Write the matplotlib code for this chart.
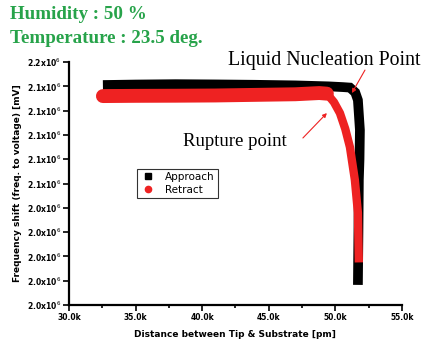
import matplotlib
matplotlib.use('Agg')
import matplotlib.pyplot as plt

# approach curve (black)
approach_x = [32550, 35000, 38000, 41000, 44000, 47000, 49500, 50570, 51100, 51500, 51700, 51850, 51820, 51770, 51740, 51700]
approach_y = [2.1411e6, 2.1415e6, 2.1418e6, 2.1416e6, 2.1413e6, 2.1408e6, 2.1400e6, 2.1394e6, 2.1390e6, 2.1350e6, 2.1287e6, 2.1040e6, 2.0800e6, 2.0630e6, 2.0200e6, 1.9765e6]

# retract curve (red)
retract_x = [32550, 35000, 38000, 41000, 44000, 47000, 48800, 49370, 49900, 50350, 50750, 51100, 51470, 51700, 51770]
retract_y = [2.1320e6, 2.1322e6, 2.1323e6, 2.1325e6, 2.1330e6, 2.1335e6, 2.1345e6, 2.1340e6, 2.1270e6, 2.1180e6, 2.1050e6, 2.0900e6, 2.0630e6, 2.0360e6, 1.9950e6]

yticks = [2.16e6, 2.14e6, 2.12e6, 2.10e6, 2.08e6, 2.06e6, 2.04e6, 2.02e6, 2.00e6, 1.98e6, 1.96e6]
ytick_labels = ['2.2', '2.1', '2.1', '2.1', '2.1', '2.1', '2.0', '2.0', '2.0', '2.0', '2.0']
xticks = [30000, 35000, 40000, 45000, 50000, 55000]
xtick_labels = ['30.0k', '35.0k', '40.0k', '45.0k', '50.0k', '55.0k']

red = '#ee2222'

fig = plt.figure(figsize=(4.23, 3.43), dpi=100)
ax = fig.add_axes([0.163, 0.111, 0.787, 0.708])

ax.plot(approach_x, approach_y, color='black', lw=7, solid_joinstyle='miter', solid_capstyle='butt', zorder=2)
# flat part of the retract band is thicker than the drop
ax.plot(retract_x[:8], retract_y[:8], color=red, lw=10, solid_capstyle='round', zorder=3)
ax.plot(retract_x[6:], retract_y[6:], color=red, lw=6, solid_capstyle='butt', zorder=3)
# legend handles
ax.plot([], [], 's', color='black', ms=4, label='Approach')
ax.plot([], [], 'o', color=red, ms=4.5, label='Retract')

ax.set_xlim(30000, 55000)
ax.set_ylim(1.96e6, 2.16e6)
ax.set_xticks(xticks)
ax.set_xticklabels(xtick_labels, fontsize=5.5, fontweight='bold')
ax.set_xticks([32500, 37500, 42500, 47500, 52500], minor=True)
ax.set_yticks(yticks)
ax.set_yticklabels([s + r'x10$^{6}$' for s in ytick_labels], fontsize=5.5, fontweight='bold')
ax.tick_params(axis='both', which='major', length=4, width=1.2, pad=1.5)
ax.tick_params(axis='x', which='minor', length=2, width=1.2)
for s in ['top', 'right']:
    ax.spines[s].set_visible(False)
for s in ['left', 'bottom']:
    ax.spines[s].set_linewidth(1.6)

ax.set_xlabel('Distance between Tip & Substrate [pm]', fontsize=6.5, fontweight='bold', labelpad=6)
ax.set_ylabel('Frequency shift (freq. to voltage) [mV]', fontsize=6.5, fontweight='bold', labelpad=4)

leg = ax.legend(loc='upper left', bbox_to_anchor=(0.205, 0.56), fontsize=7.5, frameon=True,
                fancybox=False, edgecolor='black', handlelength=1.4, borderpad=0.3,
                labelspacing=0.25, handletextpad=1.0, borderaxespad=0)
leg.get_frame().set_linewidth(0.8)

green = '#27a34a'
fig.text(0.024, 0.957, 'Humidity : 50 %', family='Liberation Serif', fontweight='bold',
         fontsize=13.7, color=green, va='center')
fig.text(0.024, 0.887, 'Temperature : 23.5 deg.', family='Liberation Serif', fontweight='bold',
         fontsize=13.7, color=green, va='center')

arrow = dict(arrowstyle='-|>', color=red, lw=0.8, mutation_scale=6, shrinkA=0, shrinkB=0)
ax.text(49150, 2.1616e6, 'Liquid Nucleation Point', family='Liberation Serif', fontsize=14.3,
        ha='center', va='center', clip_on=False)
ax.annotate('', xy=(51250, 2.1345e6), xytext=(52230, 2.1534e6), arrowprops=arrow,
            annotation_clip=False)
ax.text(42470, 2.0942e6, 'Rupture point', family='Liberation Serif', fontsize=13.5,
        ha='center', va='center')
ax.annotate('', xy=(49370, 2.118e6), xytext=(47570, 2.0975e6), arrowprops=arrow)

fig.savefig('out.png', dpi=100)
